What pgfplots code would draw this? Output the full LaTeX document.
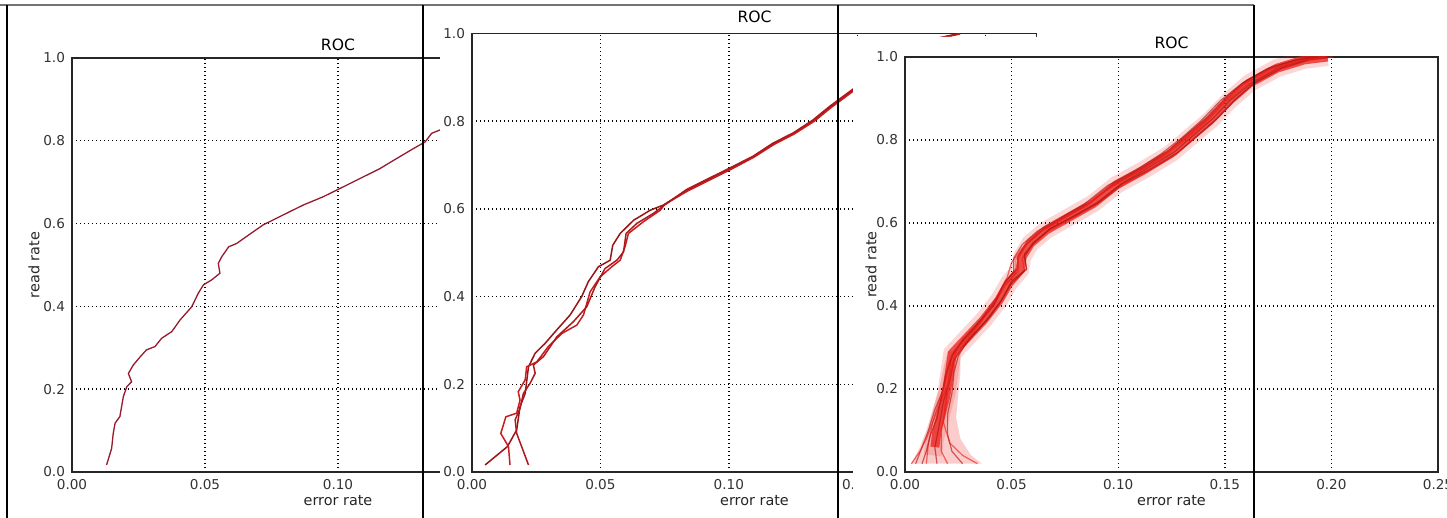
\documentclass[border=0pt]{standalone}
\usepackage{fontspec}
\setmainfont{DejaVu Sans}
\usepackage{pgfplots}
\pgfplotsset{compat=1.18}
\definecolor{lone}{RGB}{150,25,45}
\definecolor{ltwo}{RGB}{200,28,30}
\definecolor{lthree}{RGB}{235,30,25}
\pgfplotsset{rocstyle/.style={
  scale only axis,
  anchor=south west,
  axis line style={black!85, line width=0.6pt},
  grid=major,
  major grid style={black, line width=0.7pt, dash pattern=on 0.7pt off 1.3pt},
  major tick length=0pt,
  ymin=0, ymax=1, xmin=0,
  ytick={0,0.2,0.4,0.6,0.8,1.0},
  yticklabels={0.0,0.2,0.4,0.6,0.8,1.0},
  xtick={0,0.05,0.1,0.15,0.2,0.25},
  xticklabels={0.00,0.05,0.10,0.15,0.20,0.25},
  tick label style={font=\fontsize{6.8}{8}\selectfont, text=black!80},
  label style={font=\fontsize{7.2}{8.5}\selectfont, text=black!85},
  xlabel style={yshift=4pt},
  title style={font=\fontsize{7.8}{9}\selectfont},
  xlabel={error rate}, ylabel={read rate},
  title={ROC},
  axis background/.style={fill=white},
}}
\begin{document}
\begin{tikzpicture}
\useasboundingbox (0,0) rectangle (723.5pt,-259pt);
\clip (0,0) rectangle (723.5pt,-259pt);
% ---------------- panel 1
\begin{scope}
\clip (0,-2.5pt) rectangle (220pt,-259pt);
\begin{axis}[rocstyle, at={(36pt,-236pt)}, width=266pt, height=207pt, xmax=0.20,
  xticklabels={0.00,0.05,0.10,,},
  title style={yshift=-6pt}, ylabel shift=-5pt]
\addplot[lone, line width=0.65pt] coordinates {
(0.0130,0.017)(0.0149,0.057)(0.0155,0.093)(0.0162,0.118)(0.0180,0.134)(0.0193,0.182)
(0.0206,0.206)(0.0224,0.218)(0.0212,0.238)(0.0230,0.258)(0.0256,0.278)(0.0280,0.295)
(0.0312,0.303)(0.0337,0.323)(0.0375,0.339)(0.0406,0.367)(0.0450,0.399)(0.0475,0.432)
(0.0494,0.452)(0.0525,0.464)(0.0556,0.480)(0.0550,0.504)(0.0563,0.520)(0.0589,0.544)
(0.0619,0.552)(0.0663,0.572)(0.0719,0.597)(0.0794,0.621)(0.0870,0.645)(0.0945,0.665)
(0.1008,0.685)(0.1083,0.709)(0.1158,0.733)(0.1220,0.757)(0.1283,0.781)(0.1327,0.797)
(0.1352,0.818)(0.1383,0.826)(0.1500,0.860)(0.1700,0.920)(0.1900,0.970)(0.2000,0.990)};
\end{axis}
\end{scope}
% ---------------- panel 2
\begin{scope}
\clip (220pt,-3pt) rectangle (518.5pt,-259pt);
\fill[white] (220pt,-3pt) rectangle (518.5pt,-259pt);
\begin{axis}[rocstyle, at={(236pt,-236pt)}, width=282.5pt, height=219.25pt, xmax=0.22,
  xticklabels={0.00,0.05,0.10,0.15,,},
  ylabel={}, title style={yshift=-4.25pt}]
\addplot[ltwo!75!black, line width=0.75pt] coordinates {
(0.0051,0.016)(0.0138,0.058)(0.0174,0.096)(0.0187,0.149)(0.0207,0.179)(0.0220,0.240)
(0.0246,0.271)(0.0284,0.293)(0.0330,0.324)(0.0382,0.358)(0.0427,0.400)(0.0453,0.434)
(0.0492,0.468)(0.0538,0.483)(0.0548,0.517)(0.0577,0.544)(0.0629,0.574)(0.0694,0.597)
(0.0746,0.609)(0.0837,0.643)(0.0901,0.662)(0.1005,0.692)(0.1096,0.719)(0.1174,0.749)
(0.1252,0.772)(0.1330,0.802)(0.1395,0.833)(0.1493,0.875)(0.1600,0.915)(0.1700,0.957)
(0.1800,0.987)(0.1900,1.000)};
\addplot[ltwo, line width=0.75pt] coordinates {
(0.0148,0.016)(0.0142,0.058)(0.0112,0.088)(0.0132,0.126)(0.0174,0.134)(0.0187,0.164)
(0.0180,0.183)(0.0207,0.210)(0.0213,0.240)(0.0252,0.251)(0.0297,0.286)(0.0350,0.316)
(0.0408,0.335)(0.0434,0.358)(0.0460,0.411)(0.0499,0.445)(0.0544,0.468)(0.0577,0.483)
(0.0596,0.514)(0.0609,0.544)(0.0668,0.571)(0.0733,0.597)(0.0750,0.610)(0.0840,0.641)
(0.0905,0.660)(0.1008,0.690)(0.1098,0.718)(0.1176,0.747)(0.1255,0.771)(0.1333,0.800)
(0.1398,0.831)(0.1495,0.873)(0.1600,0.913)(0.1700,0.955)(0.1800,0.986)(0.1900,0.999)};
\addplot[ltwo!88!black, line width=0.75pt] coordinates {
(0.0220,0.016)(0.0174,0.088)(0.0168,0.119)(0.0187,0.145)(0.0200,0.179)(0.0226,0.202)
(0.0246,0.225)(0.0239,0.244)(0.0278,0.263)(0.0330,0.308)(0.0395,0.343)(0.0447,0.377)
(0.0479,0.422)(0.0518,0.464)(0.0564,0.483)(0.0590,0.502)(0.0600,0.544)(0.0642,0.567)
(0.0707,0.590)(0.0748,0.608)(0.0835,0.644)(0.0903,0.664)(0.1003,0.693)(0.1094,0.720)
(0.1172,0.750)(0.1250,0.773)(0.1328,0.803)(0.1393,0.834)(0.1490,0.876)(0.1600,0.917)
(0.1700,0.959)(0.1800,0.988)(0.1900,1.000)};
\end{axis}
\end{scope}
% ---------------- panel 3
\begin{scope}
\clip (426.5pt,-18.5pt) -- (518.5pt,-18.5pt) -- (518.5pt,-14pt) -- (723.5pt,-14pt)
  -- (723.5pt,-259pt) -- (426.5pt,-259pt) -- cycle;
\fill[white] (426.5pt,-14pt) rectangle (723.5pt,-259pt);
\begin{axis}[rocstyle, at={(452.5pt,-236pt)}, width=266.5pt, height=207.5pt, xmax=0.25,
  title style={yshift=-5.5pt}, ylabel shift=-7pt]
\addplot[fill=lthree, draw=none, opacity=0.22] coordinates {
(0.003,0.02)(0.007,0.06)(0.010,0.10)(0.013,0.15)(0.016,0.20)(0.018,0.25)(0.020,0.29)
(0.026,0.29)(0.026,0.24)(0.025,0.19)(0.024,0.13)(0.026,0.08)(0.031,0.04)(0.036,0.02)} -- cycle;
\addplot[lthree, line width=9pt, opacity=0.18] coordinates {
(0.0130,0.040)(0.0140,0.080)(0.0160,0.120)(0.0180,0.160)(0.0195,0.190)
(0.0203,0.222)(0.0222,0.286)(0.0295,0.326)(0.0368,0.366)(0.0441,0.414)(0.0487,0.455)
(0.0540,0.487)(0.0550,0.519)(0.0588,0.551)(0.0662,0.583)(0.0772,0.615)(0.0882,0.647)
(0.0992,0.692)(0.1120,0.728)(0.1248,0.768)(0.1340,0.808)(0.1432,0.848)(0.1523,0.896)
(0.1615,0.937)(0.1744,0.973)(0.1872,0.993)(0.1982,1.000)};
\addplot[lthree, line width=4.5pt, opacity=0.75] coordinates {
(0.0140,0.060)(0.0150,0.100)(0.0170,0.140)(0.0190,0.180)
(0.0203,0.222)(0.0222,0.286)(0.0295,0.326)(0.0368,0.366)(0.0441,0.414)(0.0487,0.455)
(0.0540,0.487)(0.0550,0.519)(0.0588,0.551)(0.0662,0.583)(0.0772,0.615)(0.0882,0.647)
(0.0992,0.692)(0.1120,0.728)(0.1248,0.768)(0.1340,0.808)(0.1432,0.848)(0.1523,0.896)
(0.1615,0.937)(0.1744,0.973)(0.1872,0.993)(0.1982,1.000)};
\addplot[lthree!75!black, line width=0.6pt, opacity=0.65] coordinates {
(0.005,0.02)(0.008,0.06)(0.011,0.10)(0.014,0.15)(0.018,0.20)(0.020,0.25)(0.023,0.29)
(0.029,0.33)(0.036,0.37)(0.043,0.42)(0.047,0.46)(0.053,0.49)(0.053,0.52)(0.057,0.55)
(0.065,0.585)(0.076,0.62)(0.087,0.65)(0.098,0.695)(0.111,0.732)(0.123,0.772)(0.132,0.812)
(0.141,0.852)(0.150,0.90)(0.159,0.94)(0.172,0.976)(0.185,0.995)(0.196,1.0)};
\addplot[lthree, line width=0.6pt, opacity=0.65] coordinates {
(0.010,0.02)(0.011,0.07)(0.013,0.12)(0.016,0.16)(0.020,0.21)(0.022,0.26)(0.024,0.29)
(0.031,0.325)(0.038,0.365)(0.045,0.41)(0.049,0.45)(0.056,0.485)(0.055,0.515)(0.060,0.548)
(0.067,0.58)(0.079,0.613)(0.090,0.645)(0.101,0.688)(0.114,0.725)(0.127,0.765)(0.136,0.805)
(0.145,0.845)(0.154,0.893)(0.163,0.934)(0.176,0.97)(0.189,0.992)(0.200,1.0)};
\addplot[lthree!75!black, line width=0.6pt, opacity=0.65] coordinates {
(0.015,0.02)(0.014,0.06)(0.016,0.11)(0.018,0.17)(0.021,0.22)(0.023,0.27)(0.027,0.30)
(0.033,0.335)(0.040,0.375)(0.046,0.42)(0.050,0.46)(0.057,0.49)(0.056,0.525)(0.061,0.555)
(0.068,0.587)(0.080,0.618)(0.091,0.65)(0.102,0.695)(0.115,0.73)(0.128,0.77)(0.137,0.81)
(0.146,0.85)(0.155,0.898)(0.164,0.938)(0.177,0.974)(0.190,0.994)(0.201,1.0)};
\addplot[lthree, line width=0.6pt, opacity=0.65] coordinates {
(0.020,0.02)(0.017,0.05)(0.017,0.10)(0.019,0.15)(0.020,0.20)(0.021,0.25)(0.022,0.28)
(0.027,0.32)(0.035,0.36)(0.042,0.405)(0.047,0.45)(0.053,0.483)(0.053,0.515)(0.057,0.548)
(0.064,0.58)(0.075,0.612)(0.086,0.644)(0.097,0.69)(0.110,0.726)(0.122,0.766)(0.132,0.806)
(0.141,0.846)(0.150,0.894)(0.159,0.935)(0.172,0.972)(0.185,0.993)(0.196,1.0)};
\addplot[lthree!75!black, line width=0.6pt, opacity=0.65] coordinates {
(0.027,0.02)(0.022,0.05)(0.020,0.09)(0.020,0.14)(0.022,0.19)(0.023,0.24)(0.025,0.28)
(0.030,0.32)(0.038,0.365)(0.045,0.412)(0.050,0.455)(0.057,0.488)(0.056,0.52)(0.060,0.552)
(0.068,0.585)(0.079,0.617)(0.090,0.649)(0.101,0.693)(0.113,0.73)(0.126,0.77)(0.135,0.81)
(0.144,0.85)(0.153,0.898)(0.163,0.939)(0.176,0.975)(0.189,0.995)(0.199,1.0)};
\addplot[lthree, line width=0.6pt, opacity=0.65] coordinates {
(0.034,0.02)(0.027,0.04)(0.021,0.07)(0.018,0.12)(0.019,0.17)(0.021,0.22)(0.023,0.27)
(0.028,0.31)(0.034,0.35)(0.041,0.40)(0.046,0.445)(0.052,0.48)(0.052,0.512)(0.056,0.545)
(0.063,0.578)(0.074,0.61)(0.085,0.642)(0.096,0.686)(0.109,0.723)(0.121,0.763)(0.131,0.803)
(0.140,0.843)(0.149,0.891)(0.158,0.932)(0.171,0.97)(0.184,0.991)(0.195,1.0)};
\addplot[lthree!75!black, line width=0.6pt, opacity=0.65] coordinates {
(0.008,0.02)(0.010,0.05)(0.012,0.09)(0.015,0.13)(0.017,0.18)(0.019,0.23)(0.022,0.28)
(0.027,0.315)(0.034,0.355)(0.042,0.405)(0.046,0.45)(0.051,0.483)(0.051,0.515)(0.055,0.548)
(0.062,0.58)(0.073,0.612)(0.084,0.645)(0.095,0.69)(0.108,0.726)(0.120,0.766)(0.130,0.806)
(0.139,0.847)(0.148,0.895)(0.158,0.936)(0.170,0.972)(0.183,0.993)(0.194,1.0)};
\addplot[lthree, line width=0.6pt, opacity=0.65] coordinates {
(0.003,0.02)(0.007,0.05)(0.010,0.08)(0.013,0.12)(0.016,0.17)(0.019,0.22)(0.021,0.27)
(0.025,0.30)(0.032,0.34)(0.039,0.385)(0.044,0.43)(0.048,0.47)(0.050,0.505)(0.055,0.54)
(0.062,0.575)(0.072,0.607)(0.084,0.64)(0.096,0.684)(0.109,0.722)(0.122,0.762)(0.132,0.802)
(0.141,0.842)(0.150,0.89)(0.160,0.932)(0.173,0.97)(0.186,0.992)(0.197,1.0)};
\end{axis}
\end{scope}
% ---------------- collage frame
\draw[black!55, line width=0.8pt] (0,-2.5pt) -- (627pt,-2.5pt);
\draw[black, line width=0.6pt] (3.5pt,-2.5pt) -- (3.5pt,-259pt);
\draw[black, line width=0.6pt] (211.5pt,-2.5pt) -- (211.5pt,-259pt);
\draw[black, line width=0.6pt] (419pt,-2.5pt) -- (419pt,-259pt);
\draw[black, line width=0.6pt] (627pt,-2.5pt) -- (627pt,-259pt);
\end{tikzpicture}
\end{document}
